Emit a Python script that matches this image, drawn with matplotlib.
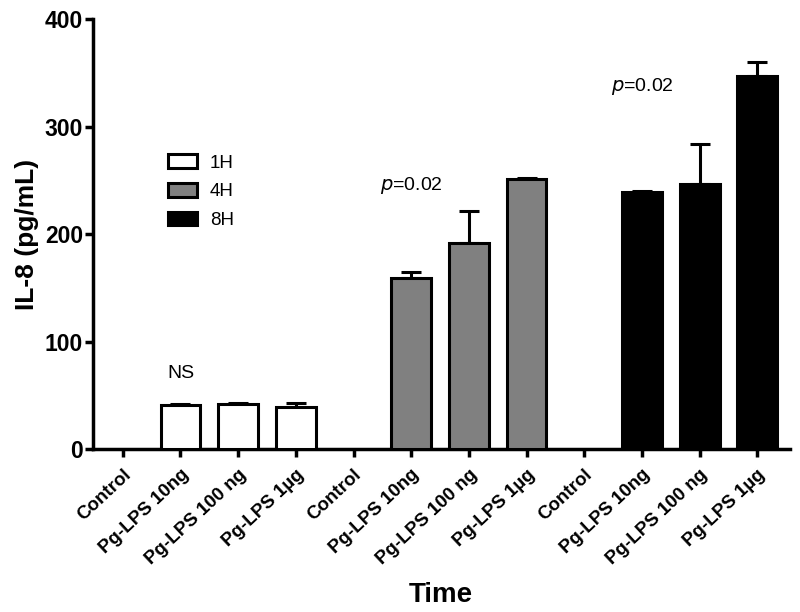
import matplotlib
matplotlib.use("Agg")
import matplotlib.pyplot as plt
import numpy as np
from matplotlib.patches import Patch

plt.rcParams['font.family'] = ['Liberation Sans', 'DejaVu Sans']

categories = ["Control", "Pg-LPS 10ng", "Pg-LPS 100 ng", "Pg-LPS 1\u00b5g"] * 3
groups = ["1H", "4H", "8H"]
values_1h = [0, 41.3, 42.0, 38.8]
errors_1h = [0, 1.2, 1.0, 4.4]
values_4h = [0, 159.4, 191.7, 251.0]
errors_4h = [0, 5.3, 30.3, 1.3]
values_8h = [0, 239.0, 247.0, 346.8]
errors_8h = [0, 1.5, 36.7, 13.4]
colors = ["white", "#808080", "black"]
annotations = [("NS", 1, 70), ("$p$=0.02", 5, 245), ("$p$=0.02", 9, 337)]

fig = plt.figure(figsize=(8, 6.12), dpi=100)
ax = fig.add_axes([0.116, 0.266, 0.871, 0.7026])

series = [(values_1h, errors_1h), (values_4h, errors_4h), (values_8h, errors_8h)]
for g, ((vals, errs), col) in enumerate(zip(series, colors)):
    x = np.arange(4) + 4 * g
    vals = np.asarray(vals, dtype=float)
    nz = vals > 0
    ax.errorbar(x[nz], vals[nz], yerr=[np.zeros(nz.sum()), np.asarray(errs)[nz]],
                fmt="none", ecolor="black", elinewidth=2.2, capsize=7.5,
                capthick=2.2, zorder=2)
    ax.bar(x[nz], vals[nz], width=0.69, color=col, edgecolor="black",
           linewidth=2.2, zorder=3, label=groups[g])

for txt, xi, yv in annotations:
    ax.text(xi, yv, txt, ha="center", va="center", fontsize=14)

ax.set_xlim(-0.52, 11.56)
ax.set_ylim(0, 400)
ax.set_yticks([0, 100, 200, 300, 400])
ax.set_xticks(np.arange(12))
ax.set_xticklabels(categories, rotation=43, ha="right", rotation_mode="anchor",
                   fontsize=13.5, fontweight="bold")
for lab in ax.get_yticklabels():
    lab.set_fontweight("bold")
    lab.set_fontsize(16.5)

for s in ["top", "right"]:
    ax.spines[s].set_visible(False)
for s in ["left", "bottom"]:
    ax.spines[s].set_linewidth(2.5)
ax.tick_params(axis="both", width=2.5, length=6, direction="out")
ax.tick_params(axis="y", pad=1)
ax.tick_params(axis="x", pad=6)

ax.set_ylabel("IL-8 (pg/mL)", fontsize=19, fontweight="bold", labelpad=4)
ax.set_xlabel("Time", fontsize=20, fontweight="bold", labelpad=10)

handles = [Patch(facecolor=c, edgecolor="black", linewidth=2.2) for c in colors]
ax.legend(handles, groups, loc="upper left", bbox_to_anchor=(0.083, 0.725),
          frameon=False, fontsize=13.5, handlelength=1.55, handleheight=0.75,
          labelspacing=0.6, handletextpad=0.7)

fig.savefig("out.png", dpi=100)
